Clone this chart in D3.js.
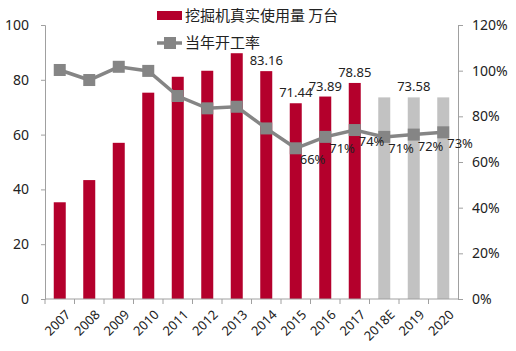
<!DOCTYPE html>
<html>
<head>
<meta charset="utf-8">
<script src="https://cdn.jsdelivr.net/npm/d3@7"></script>
<style>
  body { margin: 0; background: #fff; }
  text { font-family: "Noto Sans", "Noto Sans CJK SC", sans-serif; fill: #222; }
</style>
</head>
<body>
<div id="chart"></div>
<script>
const years = ["2007","2008","2009","2010","2011","2012","2013","2014","2015","2016","2017","2018E","2019","2020"];
const usage = [35.3, 43.4, 57.0, 75.3, 81.1, 83.3, 89.7, 83.16, 71.44, 73.89, 78.85, 73.58, 73.58, 73.58];
const forecast = [false,false,false,false,false,false,false,false,false,false,false,true,true,true];
const rate = [100.3, 95.9, 101.7, 99.9, 88.9, 83.5, 84.2, 74.7, 66, 71, 74, 71, 72, 73];
const usageLabels = { "2014": "83.16", "2015": "71.44", "2016": "73.89", "2017": "78.85", "2019": "73.58" };
const rateLabels = { "2015": "66%", "2016": "71%", "2017": "74%", "2018E": "71%", "2019": "72%", "2020": "73%" };
const leftTicks = [0, 20, 40, 60, 80, 100];
const rightTicks = [0, 20, 40, 60, 80, 100, 120];

const margin = { top: 25, right: 58, bottom: 52, left: 45 },
  width = 516 - margin.left - margin.right,
  height = 351 - margin.top - margin.bottom;

const svg = d3
  .select("#chart")
  .append("svg")
  .attr("width", 516)
  .attr("height", 351)
  .append("g")
  .attr("transform", `translate(${margin.left},${margin.top})`);

const x = d3.scaleBand().domain(years).range([0, width]).padding(0);
const y = d3.scaleLinear().domain([0, 100]).range([height, 0]);
const y2 = d3.scaleLinear().domain([0, 120]).range([height, 0]);

const red = "#b4002c", gray = "#c2c2c2", lineGray = "#858585", axisGray = "#a0a0a0";
const barW = 12;

// bars
svg
  .selectAll(".bar")
  .data(years)
  .enter()
  .append("rect")
  .attr("x", (d) => x(d) + x.bandwidth() / 2 - barW / 2)
  .attr("y", (d, i) => y(usage[i]))
  .attr("width", barW)
  .attr("height", (d, i) => height - y(usage[i]))
  .attr("fill", (d, i) => (forecast[i] ? gray : red));

// left axis
const leftAxis = svg.append("g").call(d3.axisLeft(y).tickValues(leftTicks).tickSize(4).tickPadding(12));
leftAxis.select(".domain").attr("stroke", axisGray);
leftAxis.selectAll(".tick line").attr("stroke", axisGray);
leftAxis.selectAll("text").style("font-size", "14px").attr("fill", "#222");

// right axis
const rightAxis = svg
  .append("g")
  .attr("transform", `translate(${width},0)`)
  .call(d3.axisRight(y2).tickValues(rightTicks).tickSize(5).tickPadding(9).tickFormat((d) => d + "%"));
rightAxis.select(".domain").attr("stroke", axisGray);
rightAxis.selectAll(".tick line").attr("stroke", axisGray);
rightAxis.selectAll("text").style("font-size", "14px").attr("fill", "#222");

// x axis
const xAxis = svg.append("g").attr("transform", `translate(0,${height})`);
xAxis.append("line").attr("x1", 0).attr("x2", width).attr("stroke", axisGray);
xAxis
  .selectAll(".xt")
  .data(years)
  .enter()
  .append("line")
  .attr("x1", (d) => x(d))
  .attr("x2", (d) => x(d))
  .attr("y2", 5)
  .attr("stroke", axisGray);
xAxis
  .selectAll(".xl")
  .data(years)
  .enter()
  .append("text")
  .attr("transform", (d) => `translate(${x(d) + x.bandwidth() / 2 + 5},${10}) rotate(-45)`)
  .attr("text-anchor", "end")
  .attr("dy", "0.7em")
  .style("font-size", "13px")
  .text((d) => d);

// rate line
const line = d3
  .line()
  .x((d, i) => x(years[i]) + x.bandwidth() / 2)
  .y((d) => y2(d));
svg
  .append("path")
  .datum(rate)
  .attr("d", line)
  .attr("fill", "none")
  .attr("stroke", lineGray)
  .attr("stroke-width", 3.5);
svg
  .selectAll(".mk")
  .data(rate)
  .enter()
  .append("rect")
  .attr("x", (d, i) => x(years[i]) + x.bandwidth() / 2 - 6)
  .attr("y", (d) => y2(d) - 6)
  .attr("width", 12)
  .attr("height", 12)
  .attr("fill", lineGray);

// usage labels
svg
  .selectAll(".ul")
  .data(years.filter((d) => usageLabels[d]))
  .enter()
  .append("text")
  .attr("x", (d) => x(d) + x.bandwidth() / 2)
  .attr("y", (d) => y(usage[years.indexOf(d)]) - 6)
  .attr("text-anchor", "middle")
  .style("font-size", "13px")
  .text((d) => usageLabels[d]);

// rate labels
svg
  .selectAll(".rl")
  .data(years.filter((d) => rateLabels[d]))
  .enter()
  .append("text")
  .attr("x", (d) => x(d) + x.bandwidth() / 2 + 4)
  .attr("y", (d) => y2(rate[years.indexOf(d)]) + 16)
  .style("font-size", "13px")
  .text((d) => rateLabels[d]);

// legend
const legend = svg.append("g").attr("transform", `translate(${157 - margin.left},${-margin.top})`);
legend.append("rect").attr("x", 0).attr("y", 11).attr("width", 25).attr("height", 9).attr("fill", red);
legend
  .append("text")
  .attr("x", 28)
  .attr("y", 16)
  .attr("dy", "0.35em")
  .style("font-size", "15px")
  .style("font-family", "'Noto Sans CJK SC', sans-serif")
  .text("挖掘机真实使用量 万台");
legend.append("line").attr("x1", 0).attr("x2", 25).attr("y1", 43).attr("y2", 43).attr("stroke", lineGray).attr("stroke-width", 3.5);
legend.append("rect").attr("x", 7).attr("y", 37).attr("width", 12).attr("height", 12).attr("fill", lineGray);
legend
  .append("text")
  .attr("x", 28)
  .attr("y", 43)
  .attr("dy", "0.35em")
  .style("font-size", "15px")
  .style("font-family", "'Noto Sans CJK SC', sans-serif")
  .text("当年开工率");
</script>
</body>
</html>
